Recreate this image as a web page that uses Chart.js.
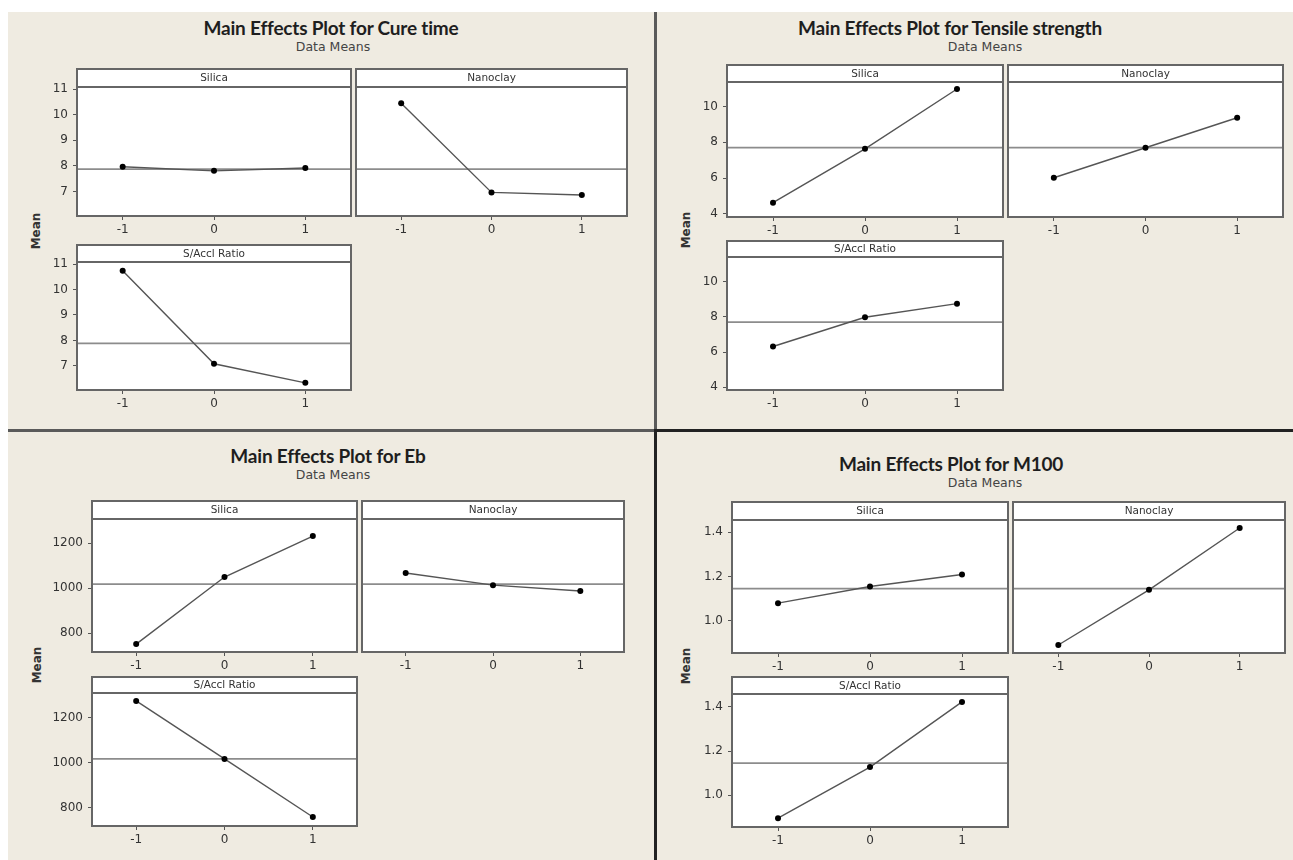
<!DOCTYPE html>
<html lang="en">
<head>
<meta charset="UTF-8">
<title>Main Effects Plots</title>
<script src="https://cdn.jsdelivr.net/npm/chart.js"></script>
<style>
    * { margin: 0; padding: 0; box-sizing: border-box; }
    body { width: 1293px; height: 860px; background: #ffffff; position: relative; overflow: hidden; font-family: 'DejaVu Sans', sans-serif; }
    .sheet { position: absolute; left: 8px; top: 12px; width: 1285px; height: 848px; background: #efebe1; }
    .title { position: absolute; transform: translate(-50%, -50%); white-space: nowrap; font-family: Lato, sans-serif; font-weight: bold; font-size: 19px; color: #1e1e1e; letter-spacing: -0.2px; }
    .sub { position: absolute; transform: translate(-50%, -50%); white-space: nowrap; font-size: 12.5px; color: #444; }
    .ylab { position: absolute; transform: translate(-50%, -50%) rotate(-90deg); white-space: nowrap; font-size: 12px; font-weight: bold; color: #333; }
    .rule { position: absolute; }
    .panel { position: absolute; }
</style>
</head>
<body>
<div class="sheet"></div>

<script>
// factor levels on the x axis
const levels = [-1, 0, 1];
const levelLabels = ['-1', '0', '1'];

// Cure time
const cureSilica = [7.97, 7.81, 7.92];
const cureNanoclay = [10.45, 6.97, 6.87];
const cureRatio = [10.74, 7.08, 6.33];
const cureMean = 7.88;
const cureTicks = [7, 8, 9, 10, 11];

// Tensile strength
const tensileSilica = [4.62, 7.64, 10.99];
const tensileNanoclay = [6.02, 7.70, 9.38];
const tensileRatio = [6.32, 7.98, 8.75];
const tensileMean = 7.70;
const tensileTicks = [4, 6, 8, 10];

// Eb
const ebSilica = [751, 1049, 1231];
const ebNanoclay = [1067, 1013, 987];
const ebRatio = [1276, 1018, 760];
const ebMean = 1018;
const ebTicks = [800, 1000, 1200];

// M100
const m100Silica = [1.080, 1.155, 1.209];
const m100Nanoclay = [0.892, 1.140, 1.418];
const m100Ratio = [0.895, 1.127, 1.423];
const m100Mean = 1.145;
const m100Ticks = [1.0, 1.2, 1.4];
const m100TickLabels = ['1.0', '1.2', '1.4'];

Chart.defaults.font.family = "'DejaVu Sans', sans-serif";
Chart.defaults.color = '#333';

// white strip + frame around each panel
const stripPlugin = {
    id: 'strip',
    beforeDraw(chart, args, opts) {
        const a = chart.chartArea, ctx = chart.ctx;
        ctx.save();
        ctx.fillStyle = '#ffffff';
        ctx.fillRect(a.left, a.top - opts.h, a.right - a.left, a.bottom - a.top + opts.h);
        ctx.restore();
    },
    afterDraw(chart, args, opts) {
        const a = chart.chartArea, ctx = chart.ctx;
        ctx.save();
        ctx.strokeStyle = '#666';
        ctx.lineWidth = 2;
        ctx.strokeRect(a.left, a.top - opts.h, a.right - a.left, a.bottom - a.top + opts.h);
        ctx.beginPath();
        ctx.moveTo(a.left, a.top);
        ctx.lineTo(a.right, a.top);
        ctx.stroke();
        ctx.fillStyle = '#333';
        ctx.font = "10.5px 'DejaVu Sans', sans-serif";
        ctx.textAlign = 'center';
        ctx.textBaseline = 'middle';
        ctx.fillText(opts.label, (a.left + a.right) / 2, a.top - opts.h / 2 + 0.5);
        ctx.restore();
    }
};

function addText(cls, text, x, y) {
    const d = document.createElement('div');
    d.className = cls;
    d.textContent = text;
    d.style.left = x + 'px';
    d.style.top = y + 'px';
    document.body.appendChild(d);
}

function addRule(x, y, w, h, color) {
    const d = document.createElement('div');
    d.className = 'rule';
    d.style.cssText = `left:${x}px;top:${y}px;width:${w}px;height:${h}px;background:${color}`;
    document.body.appendChild(d);
}

function panel(box, label, values, mean, yMin, yMax, yTicks, yLabels, showY) {
    const yW = showY ? 50 : 1;
    const xH = 28;
    const stripH = box.s - box.t;
    const div = document.createElement('div');
    div.className = 'panel';
    div.style.left = (box.l - yW) + 'px';
    div.style.top = (box.t - 1) + 'px';
    div.style.width = (box.r - box.l + yW + 2) + 'px';
    div.style.height = (box.b - box.t + 1 + xH) + 'px';
    const cv = document.createElement('canvas');
    div.appendChild(cv);
    document.body.appendChild(div);

    new Chart(cv, {
        type: 'line',
        data: {
            datasets: [{
                data: levels.map((x, i) => ({ x: x, y: values[i] })),
                borderColor: '#555',
                borderWidth: 1.4,
                pointRadius: 3,
                pointBackgroundColor: '#000',
                pointBorderColor: '#000',
                pointBorderWidth: 0
            }, {
                data: [{ x: -1.5, y: mean }, { x: 1.5, y: mean }],
                borderColor: '#8c8c8c',
                borderWidth: 1.8,
                pointRadius: 0
            }]
        },
        options: {
            responsive: true,
            maintainAspectRatio: false,
            animation: false,
            events: [],
            layout: { padding: { top: stripH + 1, right: 2, left: showY ? 0 : 1, bottom: 0 } },
            plugins: {
                legend: { display: false },
                tooltip: { enabled: false },
                strip: { label: label, h: stripH }
            },
            scales: {
                x: {
                    type: 'linear',
                    min: -1.5,
                    max: 1.5,
                    afterBuildTicks: s => { s.ticks = levels.map(v => ({ value: v })); },
                    afterFit: s => { s.height = xH; s.paddingLeft = 0; s.paddingRight = 0; },
                    ticks: {
                        callback: (v) => levelLabels[levels.indexOf(v)],
                        font: { size: 12 },
                        color: '#333',
                        padding: 3,
                        maxRotation: 0
                    },
                    grid: { drawOnChartArea: false, drawTicks: true, tickLength: 4, color: '#555', lineWidth: 1 },
                    border: { display: false }
                },
                y: {
                    display: showY,
                    min: yMin,
                    max: yMax,
                    afterBuildTicks: s => { s.ticks = yTicks.map(v => ({ value: v })); },
                    afterFit: s => { s.width = yW; s.paddingTop = 0; s.paddingBottom = 0; },
                    ticks: {
                        callback: (v) => yLabels[yTicks.indexOf(v)],
                        font: { size: 12 },
                        color: '#333',
                        padding: 5
                    },
                    grid: { drawOnChartArea: false, drawTicks: true, tickLength: 4, color: '#555', lineWidth: 1 },
                    border: { display: false }
                }
            }
        },
        plugins: [stripPlugin]
    });
}

// quadrant rules
addRule(654, 12, 3, 419, '#5a5a5a');
addRule(8, 429, 647, 3, '#5a5a5a');
addRule(654, 429, 3, 431, '#222');
addRule(654, 429, 639, 3, '#222');

// Cure time
addText('title', 'Main Effects Plot for Cure time', 331, 27);
addText('sub', 'Data Means', 333, 46);
addText('ylab', 'Mean', 36, 231);
const cureLabels = cureTicks.map(String);
panel({ l: 77, r: 353, t: 69, s: 87, b: 216 }, 'Silica', cureSilica, cureMean, 6.05, 11.08, cureTicks, cureLabels, true);
panel({ l: 353, r: 629, t: 69, s: 87, b: 216 }, 'Nanoclay', cureNanoclay, cureMean, 6.05, 11.08, cureTicks, cureLabels, false);
panel({ l: 77, r: 353, t: 245, s: 262, b: 390 }, 'S/Accl Ratio', cureRatio, cureMean, 6.05, 11.08, cureTicks, cureLabels, true);

// Tensile strength
addText('title', 'Main Effects Plot for Tensile strength', 950, 27);
addText('sub', 'Data Means', 985, 46);
addText('ylab', 'Mean', 686, 230);
const tensileLabels = tensileTicks.map(String);
panel({ l: 727, r: 1005, t: 65, s: 82, b: 217 }, 'Silica', tensileSilica, tensileMean, 3.82, 11.38, tensileTicks, tensileLabels, true);
panel({ l: 1005, r: 1285, t: 65, s: 82, b: 217 }, 'Nanoclay', tensileNanoclay, tensileMean, 3.82, 11.38, tensileTicks, tensileLabels, false);
panel({ l: 727, r: 1005, t: 241, s: 257, b: 390 }, 'S/Accl Ratio', tensileRatio, tensileMean, 3.85, 11.40, tensileTicks, tensileLabels, true);

// Eb
addText('title', 'Main Effects Plot for Eb', 328, 455);
addText('sub', 'Data Means', 333, 474);
addText('ylab', 'Mean', 37, 665);
const ebLabels = ebTicks.map(String);
panel({ l: 92, r: 359, t: 501, s: 519, b: 652 }, 'Silica', ebSilica, ebMean, 716, 1307, ebTicks, ebLabels, true);
panel({ l: 359, r: 626, t: 501, s: 519, b: 652 }, 'Nanoclay', ebNanoclay, ebMean, 716, 1307, ebTicks, ebLabels, false);
panel({ l: 92, r: 359, t: 677, s: 693, b: 826 }, 'S/Accl Ratio', ebRatio, ebMean, 720, 1311, ebTicks, ebLabels, true);

// M100
addText('title', 'Main Effects Plot for M100', 951, 463);
addText('sub', 'Data Means', 985, 482);
addText('ylab', 'Mean', 686, 666);
panel({ l: 732, r: 1010, t: 502, s: 520, b: 653 }, 'Silica', m100Silica, m100Mean, 0.856, 1.454, m100Ticks, m100TickLabels, true);
panel({ l: 1010, r: 1287, t: 502, s: 520, b: 653 }, 'Nanoclay', m100Nanoclay, m100Mean, 0.856, 1.454, m100Ticks, m100TickLabels, false);
panel({ l: 732, r: 1010, t: 677, s: 694, b: 827 }, 'S/Accl Ratio', m100Ratio, m100Mean, 0.855, 1.459, m100Ticks, m100TickLabels, true);
</script>
</body>
</html>
